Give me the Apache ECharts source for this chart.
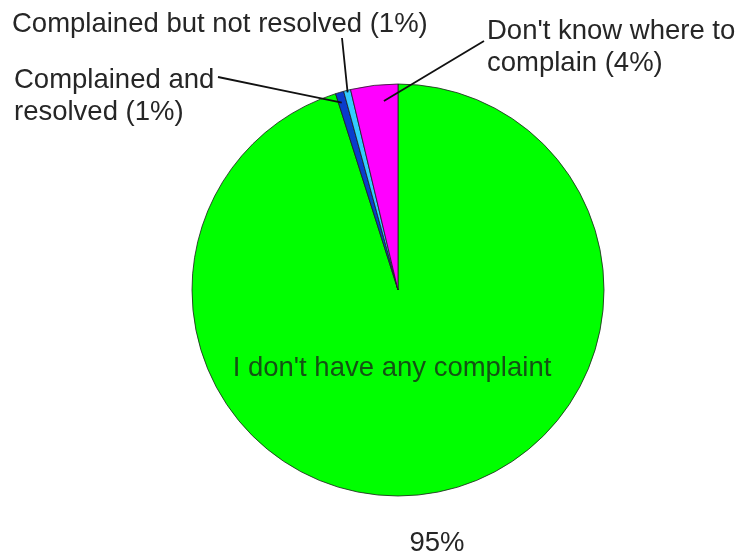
<!DOCTYPE html>
<html>
<head>
<meta charset="utf-8">
<style>
  html, body { margin: 0; padding: 0; background: #ffffff; }
  #chart { width: 738px; height: 556px; }
</style>
<script src="https://cdn.jsdelivr.net/npm/echarts@6/dist/echarts.min.js"></script>
</head>
<body>
<div id="chart"></div>
<script>
// Complaint status survey: share of respondents per answer (%)
const categories = [
  "I don't have any complaint",
  "Complained and resolved",
  "Complained but not resolved",
  "Don't know where to complain"
];
const shares = [95.1, 0.65, 0.55, 3.7];
const sliceColors = ['#00ff00', '#0a3ccc', '#33ccff', '#ff00ff'];

// Pie geometry (pixels)
const CX = 398, CY = 290, R = 206;
const FONT = 'Liberation Sans, Arial, Helvetica, sans-serif';
const FONT_SIZE = 27.5;
const TEXT_COLOR = '#262626';

// Where each label sits and where its leader line touches its slice
// (t: fraction across the slice, k: fraction of the radius)
const labelPlaces = [
  { x: 392, y: 368, align: 'center', inside: true },
  { x: 14, y: 96, align: 'left', wrapAfter: 2, lineEnd: [218, 77], t: 0.4, k: 0.95 },
  { x: 12, y: 24, align: 'left', lineEnd: [342, 38], t: 0.5, k: 0.99 },
  { x: 487, y: 47, align: 'left', wrapAfter: 4, lineEnd: [484, 41], t: 0.68, k: 0.92 }
];

const total = shares.reduce((a, b) => a + b, 0);
const pct = v => Math.round(v / total * 100);

// Point inside slice i, measured from where the slice starts (clockwise from 12 o'clock)
function slicePoint(i, t, k) {
  let before = 0;
  for (let j = 0; j < i; j++) before += shares[j];
  const frac = (before + shares[i] * t) / total;
  const ang = (90 - 360 * frac) * Math.PI / 180;
  return [CX + R * k * Math.cos(ang), CY - R * k * Math.sin(ang)];
}

function labelText(i) {
  if (labelPlaces[i].inside) return categories[i];
  const words = (categories[i] + ' (' + pct(shares[i]) + '%)').split(' ');
  const n = labelPlaces[i].wrapAfter;
  if (!n) return words.join(' ');
  return words.slice(0, n).join(' ') + '\n' + words.slice(n).join(' ');
}

// Slices
const sliceData = categories.map((name, i) => ({
  name: name,
  value: shares[i],
  itemStyle: { color: sliceColors[i] }
}));

// Same slices, transparent, carrying the labels so leader lines sit above the pie
const labelData = categories.map((name, i) => ({
  name: name,
  value: shares[i],
  label: labelPlaces[i].inside
    ? { position: 'inside', color: '#145214' }
    : { position: 'outside', color: TEXT_COLOR },
  labelLine: { show: !labelPlaces[i].inside }
}));

const chart = echarts.init(document.getElementById('chart'), null, { renderer: 'canvas' });

chart.setOption({
  backgroundColor: '#ffffff',
  animation: false,
  graphic: [{
    type: 'text',
    x: 437,
    y: 543,
    style: {
      text: pct(shares[0]) + '%',
      font: FONT_SIZE + 'px ' + FONT,
      fill: TEXT_COLOR,
      align: 'center',
      verticalAlign: 'middle'
    }
  }],
  series: [
    {
      type: 'pie',
      z: 2,
      center: [CX, CY],
      radius: R,
      startAngle: 90,
      clockwise: true,
      silent: true,
      data: sliceData,
      itemStyle: { borderColor: '#1e1e1e', borderWidth: 0.8 },
      label: { show: false },
      labelLine: { show: false }
    },
    {
      type: 'pie',
      z: 3,
      center: [CX, CY],
      radius: R,
      startAngle: 90,
      clockwise: true,
      avoidLabelOverlap: false,
      silent: true,
      data: labelData,
      itemStyle: { color: 'rgba(0,0,0,0)', borderWidth: 0 },
      label: {
        show: true,
        formatter: p => labelText(p.dataIndex),
        fontFamily: FONT,
        fontSize: FONT_SIZE,
        lineHeight: 32
      },
      labelLine: {
        show: true,
        smooth: false,
        lineStyle: { color: '#111111', width: 1.8 }
      },
      labelLayout: function (params) {
        const place = labelPlaces[params.dataIndex];
        const out = { x: place.x, y: place.y, align: place.align, verticalAlign: 'middle', hideOverlap: false };
        if (!place.inside) {
          const a = slicePoint(params.dataIndex, place.t, place.k);
          const e = place.lineEnd;
          out.labelLinePoints = [a, [(a[0] + e[0]) / 2, (a[1] + e[1]) / 2], e];
        }
        return out;
      }
    }
  ]
});
</script>
</body>
</html>
